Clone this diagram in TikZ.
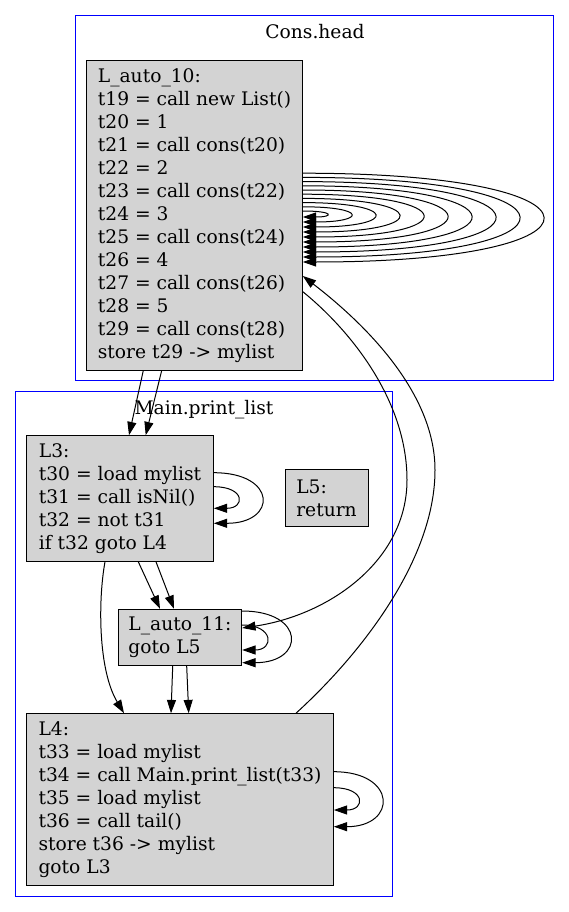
\documentclass[tikz,border=0pt]{standalone}
\usepackage{fontspec}
\setmainfont{DejaVu Serif}
\usetikzlibrary{arrows.meta,calc}
\definecolor{blockgray}{HTML}{D3D3D3}

\begin{document}
\begin{tikzpicture}[
    x=1pt, y=-1pt,
    >={Triangle[length=13.3pt,width=9pt]},
    block/.style={
        rectangle, draw=black, fill=blockgray, line width=1pt,
        align=left, inner sep=0pt,
        font=\fontsize{18.67}{23}\selectfont
    },
    cluster/.style={rectangle, draw=blue, line width=1pt, inner sep=0pt},
    clustertitle/.style={anchor=base, inner sep=0pt,
        font=\fontsize{18.67}{23}\selectfont},
    flow/.style={->, line width=1pt, draw=black},
]
\useasboundingbox (0,0) rectangle (569,912);

% ── Clusters ─────────────────────────────────────────────────
\node[cluster, minimum width=477.3pt, minimum height=364.3pt] (ConsBox) at (314.35,197.85) {};
\node[clustertitle] (ConsTitle) at (315,39) {Cons.head};
\node[cluster, minimum width=376.6pt, minimum height=505pt] (MainBox) at (204,643.5) {};
\node[clustertitle] (MainTitle) at (204,414.3) {Main.print\_list};

% ── Blocks ───────────────────────────────────────────────────
\node[block, minimum width=215.6pt, minimum height=309.7pt] (La10) at (194.5,215.2) {
    L\_auto\_10:\\
    t19 = call new List()\\
    t20 = 1\\
    t21 = call cons(t20)\\
    t22 = 2\\
    t23 = call cons(t22)\\
    t24 = 3\\
    t25 = call cons(t24)\\
    t26 = 4\\
    t27 = call cons(t26)\\
    t28 = 5\\
    t29 = call cons(t28)\\
    store t29 -> mylist
};
\node[block, minimum width=186.6pt, minimum height=125.6pt] (L3) at (120,498.5) {
    L3:\\
    t30 = load mylist\\
    t31 = call isNil()\\
    t32 = not t31\\
    if t32 goto L4
};
\node[block, minimum width=83pt, minimum height=56.7pt] (L5) at (326.5,498.3) {
    L5:\\
    return
};
\node[block, minimum width=123.4pt, minimum height=56.4pt] (La11) at (180,637.5) {
    L\_auto\_11:\\
    goto L5
};
\node[block, minimum width=306.6pt, minimum height=172pt] (L4) at (180,799.7) {
    L4:\\
    t33 = load mylist\\
    t34 = call Main.print\_list(t33)\\
    t35 = load mylist\\
    t36 = call tail()\\
    store t36 -> mylist\\
    goto L3
};

% ── Self loops on L_auto_10 ──────────────────────────────────
\draw[flow] ($(La10.east)+(0,-4.2)$) .. controls +(31.6,0) and +(31.6,0) .. ($(La10.east)+(0,1.8)$);
\draw[flow] ($(La10.east)+(0,-8.4)$) .. controls +(63.6,0) and +(63.6,0) .. ($(La10.east)+(0,6.8)$);
\draw[flow] ($(La10.east)+(0,-12.6)$) .. controls +(95.6,0) and +(95.6,0) .. ($(La10.east)+(0,11.8)$);
\draw[flow] ($(La10.east)+(0,-16.8)$) .. controls +(127.6,0) and +(127.6,0) .. ($(La10.east)+(0,16.8)$);
\draw[flow] ($(La10.east)+(0,-21)$) .. controls +(159.6,0) and +(159.6,0) .. ($(La10.east)+(0,21.8)$);
\draw[flow] ($(La10.east)+(0,-25.2)$) .. controls +(191.6,0) and +(191.6,0) .. ($(La10.east)+(0,26.8)$);
\draw[flow] ($(La10.east)+(0,-29.4)$) .. controls +(223.6,0) and +(223.6,0) .. ($(La10.east)+(0,31.8)$);
\draw[flow] ($(La10.east)+(0,-33.6)$) .. controls +(255.6,0) and +(255.6,0) .. ($(La10.east)+(0,36.8)$);
\draw[flow] ($(La10.east)+(0,-37.8)$) .. controls +(287.6,0) and +(287.6,0) .. ($(La10.east)+(0,41.8)$);
\draw[flow] ($(La10.east)+(0,-42)$) .. controls +(319.6,0) and +(319.6,0) .. ($(La10.east)+(0,46.8)$);

% ── Between the clusters ─────────────────────────────────────
\draw[flow] ([xshift=-51.2pt]La10.south) -- ([xshift=9pt]L3.north);
\draw[flow] ([xshift=-32.8pt]La10.south) -- ([xshift=25.7pt]L3.north);
\draw[flow] ($(La10.east)+(0,76.5)$) .. controls (350,330) and (407,400) .. (407,480)
    .. controls (407,560) and (330,615) .. ($(La11.east)+(0,-9.5)$);
\draw[flow] ([xshift=116pt]L4.north) .. controls (360,655) and (435,560) .. (435,470)
    .. controls (435,390) and (360,320) .. ($(La10.east)+(0,60.8)$);

% ── Main.print_list ──────────────────────────────────────────
\draw[flow] ($(L3.east)+(0,-25.8)$) .. controls +(63.6,0) and +(63.6,0) .. ($(L3.east)+(0,24.8)$);
\draw[flow] ($(L3.east)+(0,-11.8)$) .. controls +(31.6,0) and +(31.6,0) .. ($(L3.east)+(0,9.8)$);
\draw[flow] ([xshift=18.3pt]L3.south) -- ([xshift=-20pt]La11.north);
\draw[flow] ([xshift=36pt]L3.south) -- ([xshift=-6pt]La11.north);
\draw[flow] ([xshift=-15pt]L3.south) .. controls (98,600) and (98,670) .. ([xshift=-56pt]L4.north);
\draw[flow] ($(La11.east)+(0,-26.5)$) .. controls +(63.5,0) and +(63.5,0) .. ($(La11.east)+(0,25.2)$);
\draw[flow] ($(La11.east)+(0,-12.5)$) .. controls +(32,0) and +(32,0) .. ($(La11.east)+(0,12.5)$);
\draw[flow] ([xshift=-7.3pt]La11.south) -- ([xshift=-9pt]L4.north);
\draw[flow] ([xshift=6.7pt]La11.south) -- ([xshift=8.7pt]L4.north);
\draw[flow] ($(L4.east)+(0,-28)$) .. controls +(63.6,0) and +(63.6,0) .. ($(L4.east)+(0,27)$);
\draw[flow] ($(L4.east)+(0,-12)$) .. controls +(32,0) and +(32,0) .. ($(L4.east)+(0,10.3)$);

\end{tikzpicture}
\end{document}
